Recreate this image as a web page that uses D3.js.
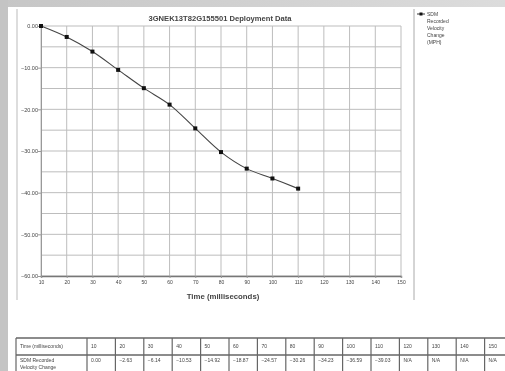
<!DOCTYPE html>
<html>
<head>
<meta charset="utf-8">
<script src="https://cdn.jsdelivr.net/npm/d3@7"></script>
<style>
  html, body { margin: 0; padding: 0; background: #fff; }
  svg { display: block; filter: blur(0.45px); }
  text { font-family: "Liberation Sans", Arial, sans-serif; fill: #444; }
</style>
</head>
<body>
<div id="chart"></div>
<script>
// deployment data
const times = [10, 20, 30, 40, 50, 60, 70, 80, 90, 100, 110, 120, 130, 140, 150];
const velocity = [0.00, -2.63, -6.14, -10.53, -14.92, -18.87, -24.57, -30.26, -34.23, -36.59, -39.03, null, null, null, null];
const yTicks = [0, -10, -20, -30, -40, -50, -60];
const title = "3GNEK13T82G155501  Deployment Data";
const xTitle = "Time (milliseconds)";
const legendLines = ["SDM", "Recorded", "Velocity", "Change", "(MPH)"];
const rowHeads = [["Time (milliseconds)"], ["SDM Recorded", "Velocity Change"]];

const W = 505, H = 371;
const margin = {top: 26, left: 41, right: 104, bottom: 95};

const svg = d3.select("#chart").append("svg")
  .attr("width", W).attr("height", H);

// gray page edges
const grad = svg.append("defs").append("linearGradient").attr("id", "topg")
  .attr("x1", 0).attr("x2", 1);
grad.append("stop").attr("offset", 0).attr("stop-color", "#c6c6c6");
grad.append("stop").attr("offset", 1).attr("stop-color", "#dcdcdc");
svg.append("rect").attr("width", W).attr("height", H).attr("fill", "#fff");
svg.append("rect").attr("width", W).attr("height", 7).attr("fill", "url(#topg)");
svg.append("rect").attr("width", 8).attr("height", H).attr("fill", "#c4c4c4");

// chart frame
svg.append("line").attr("x1", 17).attr("x2", 17).attr("y1", 9).attr("y2", 300)
  .attr("stroke", "#bbb");
svg.append("line").attr("x1", 414).attr("x2", 414).attr("y1", 9).attr("y2", 300)
  .attr("stroke", "#aaa");

const x = d3.scaleLinear().domain([10, 150]).range([margin.left, W - margin.right]);
const y = d3.scaleLinear().domain([0, -60]).range([margin.top, H - margin.bottom]);

const g = svg.append("g");

// grid
g.selectAll("line.hgrid").data(d3.range(0, -61, -5)).enter().append("line")
  .attr("class", "hgrid")
  .attr("x1", x(10)).attr("x2", x(150))
  .attr("y1", d => y(d)).attr("y2", d => y(d))
  .attr("stroke", "#bdbdbd").attr("stroke-width", 1);
g.selectAll("line.vgrid").data(times).enter().append("line")
  .attr("class", "vgrid")
  .attr("x1", d => x(d)).attr("x2", d => x(d))
  .attr("y1", y(0)).attr("y2", y(-60))
  .attr("stroke", "#bdbdbd").attr("stroke-width", 1);

// axes
const yAxis = g.append("g").attr("transform", `translate(${x(10)},0)`)
  .call(d3.axisLeft(y).tickValues(yTicks).tickSize(3).tickFormat(d => d3.format(".2f")(d)));
yAxis.select(".domain").attr("stroke", "#999");
yAxis.selectAll(".tick line").attr("stroke", "#999");
yAxis.selectAll("text").attr("font-size", 5.5).attr("fill", "#555").attr("x", -3);

const xAxis = g.append("g").attr("transform", `translate(0,${y(-60)})`)
  .call(d3.axisBottom(x).tickValues(times).tickSize(2).tickFormat(d3.format("d")));
xAxis.select(".domain").attr("stroke", "#777").attr("stroke-width", 1.4);
xAxis.selectAll(".tick line").attr("stroke", "#999");
xAxis.selectAll("text").attr("font-size", 5).attr("fill", "#555").attr("y", 4);

// line + markers
const pts = times.map((t, i) => ({t, v: velocity[i]})).filter(d => d.v !== null);
g.append("path").datum(pts)
  .attr("fill", "none").attr("stroke", "#444").attr("stroke-width", 1.1)
  .attr("d", d3.line().curve(d3.curveCatmullRom).x(d => x(d.t)).y(d => y(d.v)));
g.selectAll("rect.pt").data(pts).enter().append("rect")
  .attr("class", "pt")
  .attr("x", d => x(d.t) - 2).attr("y", d => y(d.v) - 2)
  .attr("width", 4).attr("height", 4).attr("fill", "#111");

// titles
svg.append("text").attr("x", 220).attr("y", 21).attr("text-anchor", "middle")
  .attr("font-size", 7.6).attr("font-weight", "bold").attr("fill", "#666").text(title);
svg.append("text").attr("x", 223).attr("y", 299).attr("text-anchor", "middle")
  .attr("font-size", 7.8).attr("font-weight", "bold").attr("fill", "#666").text(xTitle);

// legend
const lg = svg.append("g").attr("transform", "translate(417,14)");
lg.append("line").attr("x1", 0).attr("x2", 8).attr("stroke", "#333").attr("stroke-width", 1);
lg.append("rect").attr("x", 2.5).attr("y", -1.5).attr("width", 3).attr("height", 3).attr("fill", "#111");
lg.selectAll("text").data(legendLines).enter().append("text")
  .attr("x", 10).attr("y", (d, i) => 2 + i * 7)
  .attr("font-size", 5).attr("fill", "#555").text(d => d);

// data table
const tbl = svg.append("g");
const col0 = 16, col0w = 71, colw = 28.4, rowTop = 338, rowMid = 355, rowBot = 380;
const colX = d3.scaleLinear().domain([0, times.length]).range([col0 + col0w, col0 + col0w + colw * times.length]);
const rowLines = [rowTop, rowMid, rowBot];
tbl.selectAll("line.row").data(rowLines).enter().append("line")
  .attr("class", "row")
  .attr("x1", col0).attr("x2", W).attr("y1", d => d).attr("y2", d => d)
  .attr("stroke", "#666").attr("stroke-width", 1.4);
tbl.selectAll("line.col").data([col0].concat(d3.range(times.length + 1).map(i => colX(i)))).enter().append("line")
  .attr("class", "col")
  .attr("x1", d => d).attr("x2", d => d).attr("y1", rowTop).attr("y2", rowBot)
  .attr("stroke", "#666").attr("stroke-width", 1.2);

rowHeads.forEach((lines, r) => {
  lines.forEach((s, k) => {
    tbl.append("text").attr("x", col0 + 4).attr("y", (r === 0 ? 348 : 362) + k * 7)
      .attr("font-size", 5).attr("fill", "#555").text(s);
  });
});
tbl.selectAll("text.tm").data(times).enter().append("text")
  .attr("class", "tm")
  .attr("x", (d, i) => colX(i) + 4).attr("y", 348)
  .attr("font-size", 5).attr("fill", "#555").text(d => d);
tbl.selectAll("text.vl").data(velocity).enter().append("text")
  .attr("class", "vl")
  .attr("x", (d, i) => colX(i) + 4).attr("y", 362)
  .attr("font-size", 5).attr("fill", "#555").text(d => d === null ? "N/A" : d3.format(".2f")(d));
</script>
</body>
</html>
